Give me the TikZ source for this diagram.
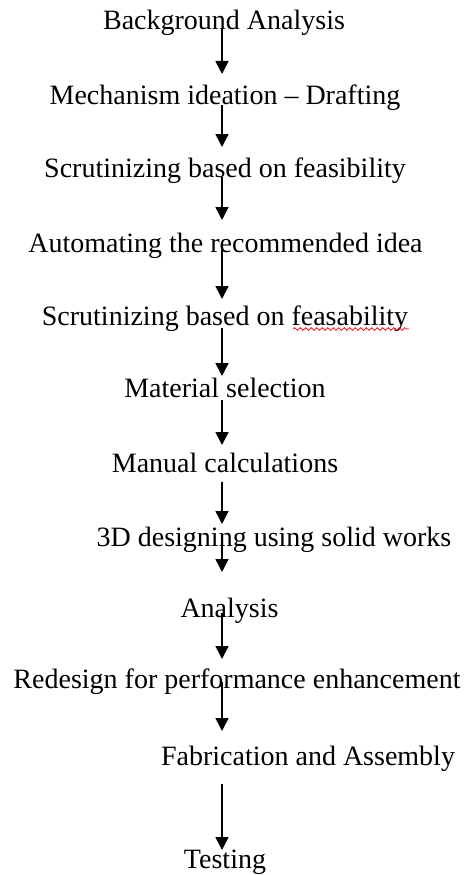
\documentclass[tikz,border=0pt]{standalone}
\usepackage{fontspec}
\setmainfont{Liberation Serif}
\usetikzlibrary{arrows.meta,decorations.pathmorphing}
\tikzset{
  steptext/.style={anchor=base, inner sep=0pt, font=\fontsize{28}{32}\selectfont},
  flow/.style={line width=1.6pt, -{Triangle[width=13pt,length=13pt]}}
}
\begin{document}
\begin{tikzpicture}[x=1pt, y=-1pt]
      \useasboundingbox (0, 0) rectangle (469, 875);
      \node (bg)   [steptext] at (224, 30)  {Background Analysis};
      \node (mech) [steptext] at (225, 104) {Mechanism ideation -- Drafting};
      \node (scra) [steptext] at (225, 177) {Scrutinizing based on feasibility};
      \node (auto) [steptext] at (225.5, 252) {Automating the recommended idea};
      \node (scrb) [steptext] at (225, 325) {Scrutinizing based on feasability};
      \node (mat)  [steptext] at (225, 397) {Material selection};
      \node (man)  [steptext] at (225, 472) {Manual calculations};
      \node (cad)  [steptext] at (274, 546) {3D designing using solid works};
      \node (ana)  [steptext] at (229.5, 617) {Analysis};
      \node (rede) [steptext] at (237, 688) {Redesign for performance enhancement};
      \node (fab)  [steptext] at (308, 765) {Fabrication and Assembly};
      \node (test) [steptext] at (225, 868) {Testing};
      % arrow ends
      \foreach \i/\ys/\ye in {1/28/74, 2/105/147, 3/177/220, 4/250/299, 5/328/376,
                              6/400/445, 7/482/524, 8/540/572, 9/613/659, 10/682/731, 11/784/850}
        {\coordinate (s\i) at (222, \ys);
         \coordinate (e\i) at (222, \ye);
         \draw[flow] (s\i) -- (e\i);}
      % spell-check mark
      \coordinate (wavl) at (293, 329);
      \coordinate (wavr) at (409, 329);
      \draw[red, line width=0.8pt, decorate,
            decoration={snake, amplitude=1.3pt, segment length=5.5pt}] (wavl) -- (wavr);
\end{tikzpicture}
\end{document}
